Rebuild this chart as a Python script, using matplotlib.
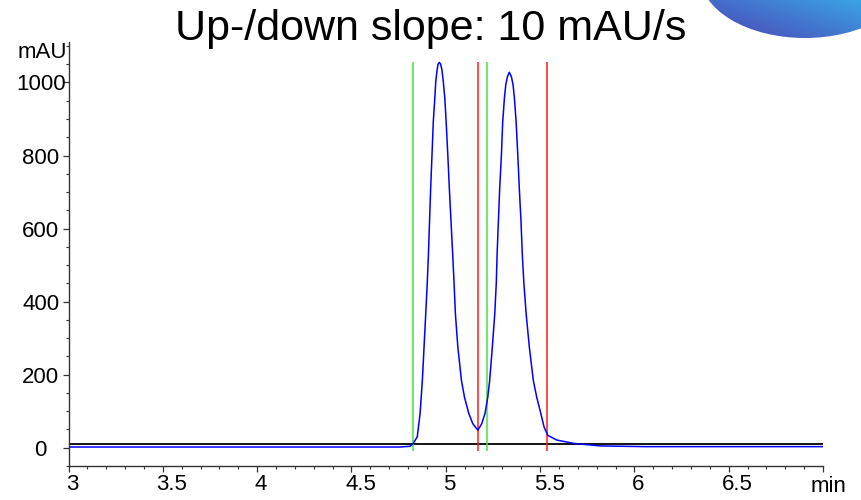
import matplotlib
matplotlib.use("Agg")
import matplotlib.pyplot as plt
import matplotlib.transforms as mtransforms
from matplotlib.patches import Ellipse
from matplotlib.ticker import MultipleLocator
import numpy as np

plt.rcParams['font.family'] = ['Liberation Sans', 'DejaVu Sans']

# chromatogram trace (retention time in min, signal in mAU)
time_min = [3.0, 4.758, 4.811, 4.828, 4.849, 4.864, 4.876, 4.885, 4.894, 4.902,
            4.908, 4.914, 4.920, 4.927, 4.934, 4.942, 4.947, 4.954, 4.959, 4.966,
            4.973, 4.980, 4.987, 4.995, 5.002, 5.011, 5.019, 5.028, 5.037, 5.044,
            5.051, 5.064, 5.083, 5.099, 5.122, 5.143, 5.170,
            5.191, 5.208, 5.223, 5.233, 5.247, 5.260, 5.268, 5.272, 5.279, 5.286,
            5.295, 5.302, 5.311, 5.318, 5.327, 5.337, 5.348, 5.357, 5.364, 5.373,
            5.382, 5.390, 5.399, 5.406, 5.414, 5.426, 5.443, 5.464, 5.482, 5.504,
            5.521, 5.541, 5.589, 5.677, 5.818, 6.057, 7.0]
signal_mau = [2, 2, 4, 12, 30, 94, 185, 276, 368, 452,
              527, 619, 710, 801, 893, 957, 1002, 1034, 1050, 1055,
              1050, 1034, 1002, 957, 893, 801, 710, 619, 527, 452,
              368, 276, 185, 139, 94, 66, 48,
              66, 94, 139, 185, 276, 368, 452, 527, 619, 710,
              801, 893, 957, 993, 1016, 1028, 1016, 993, 957, 893,
              801, 710, 619, 527, 452, 368, 276, 185, 139, 94,
              57, 34, 21, 12, 5, 3, 3]

threshold_mau = 11           # slope threshold baseline
peak_start = [4.827, 5.219]  # green markers
peak_end = [5.171, 5.539]    # red markers
marker_top = 1056
marker_bottom = -10

x_ticks = [3, 3.5, 4, 4.5, 5, 5.5, 6, 6.5]
y_ticks = [0, 200, 400, 600, 800, 1000]

W, H = 861, 500
fig = plt.figure(figsize=(W / 100, H / 100), dpi=100)

# logo globe in the top right corner
logo = fig.add_axes([0, 0, 1, 1], zorder=0)
logo.set_xlim(0, W)
logo.set_ylim(H, 0)
logo.axis('off')
gx, gy = np.meshgrid(np.linspace(690, W, 200), np.linspace(-90, 50, 160))
mix = np.clip(0.6 * (gx - 700) / 160 + 0.6 * (38 - gy) / 55 - 0.1, 0, 1)
dark = np.array([0x4c, 0x4a, 0xb6]) / 255
light = np.array([0x38, 0xac, 0xea]) / 255
img = dark[None, None, :] * (1 - mix[..., None]) + light[None, None, :] * mix[..., None]
im = logo.imshow(img, extent=[690, W, 50, -90], aspect='auto', interpolation='bilinear')
globe = Ellipse((805, -25), 210, 126, facecolor='none', edgecolor='none')
logo.add_patch(globe)
im.set_clip_path(globe)

ax = fig.add_axes([68.5 / W, 34 / H, (823 - 68.5) / W, (466 - 42.3) / H], zorder=1)
ax.set_facecolor('none')

ax.axhline(threshold_mau, color='black', lw=1.3, zorder=2)
ax.vlines(peak_start, marker_bottom, marker_top, color='#3ee63e', lw=1.1, zorder=3)
ax.vlines(peak_end, marker_bottom, marker_top, color='#ff1a1a', lw=1.1, zorder=3)
ax.plot(time_min, signal_mau, color='#0000ff', lw=1.1, zorder=4)

ax.set_xlim(3, 7)
ax.set_ylim(-50, 1110)
ax.spines['top'].set_visible(False)
ax.spines['right'].set_visible(False)
for s in ('left', 'bottom'):
    ax.spines[s].set_color('#333333')
    ax.spines[s].set_linewidth(1.0)

ax.set_xticks(x_ticks + [7])
ax.set_xticklabels([f'{v:g}' for v in x_ticks] + [''])
ax.set_yticks(y_ticks)
ax.set_yticklabels([str(v) for v in y_ticks])
ax.xaxis.set_minor_locator(MultipleLocator(0.1))
ax.yaxis.set_minor_locator(MultipleLocator(50))
ax.tick_params(which='major', length=4.5, width=0.9, color='#333333', labelsize=16)
ax.tick_params(which='minor', length=2.5, width=0.8, color='#333333')
ax.tick_params(axis='x', which='major', pad=1.5)
ax.tick_params(axis='y', which='major', pad=15.5)

for lbl in ax.get_yticklabels():
    lbl.set_horizontalalignment('center')
for lbl, v in zip(ax.get_xticklabels(), x_ticks + [7]):
    dx = 4 if float(v).is_integer() else 9
    lbl.set_transform(lbl.get_transform() + mtransforms.ScaledTranslation(dx / 100, 0, fig.dpi_scale_trans))

fig.text(828 / W, 1 - 486 / H, 'min', fontsize=16, ha='center', va='center')
fig.text(67 / W, 1 - 52 / H, 'mAU', fontsize=16, ha='right', va='center')
fig.text(0.5, 1 - 40 / H, 'Up-/down slope: 10 mAU/s', fontsize=31, ha='center', va='baseline')

fig.savefig('out.png', dpi=100)
